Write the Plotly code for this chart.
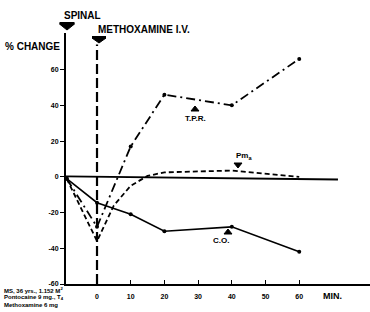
import plotly.graph_objects as go

# ---- data ----
tpr_time = [-9, 0, 10, 20, 40, 60]
tpr_vals = [-1, -28, 17, 46, 40, 66]

pma_time = [-9, 0, 5, 10, 15, 20, 40, 60]
pma_vals = [-1, -36, -16, -5, 0.5, 2.5, 3.5, 0]

co_time = [-9, 0, 10, 20, 40, 60]
co_vals = [-1, -14.5, -21, -30.5, -28, -42]

base_time = [-9.2, 71.5]
base_vals = [0.3, -1.5]

x_ticks = [0, 10, 20, 30, 40, 50, 60]
y_ticks = [60, 40, 20, 0, -20, -40, -60]

FONT = "Liberation Sans"
fig = go.Figure()

fig.add_trace(go.Scatter(x=base_time, y=base_vals, mode="lines",
                         line=dict(color="black", width=1.8), showlegend=False))
fig.add_trace(go.Scatter(x=tpr_time, y=tpr_vals, mode="lines+markers",
                         line=dict(color="black", width=1.8, dash="9px,4px,2px,4px"),
                         marker=dict(size=4, color="black"), showlegend=False))
fig.add_trace(go.Scatter(x=pma_time, y=pma_vals, mode="lines",
                         line=dict(color="black", width=1.8, dash="5px,3px"),
                         showlegend=False))
fig.add_trace(go.Scatter(x=co_time, y=co_vals, mode="lines+markers",
                         line=dict(color="black", width=1.6),
                         marker=dict(size=4, color="black"), showlegend=False))

# methoxamine dashed vertical line
fig.add_shape(type="line", x0=0, x1=0, y0=-60, y1=74, xref="x", yref="y",
              line=dict(color="black", width=2.2, dash="10px,4px"))

fig.update_layout(
    width=370, height=312,
    margin=dict(l=66, r=0, t=33, b=28),
    paper_bgcolor="white", plot_bgcolor="white",
    font=dict(family=FONT, color="black"),
    xaxis=dict(range=[-9.2, 81], tickvals=x_ticks, ticktext=[str(v) for v in x_ticks],
               showgrid=False, zeroline=False, showline=True, linecolor="black",
               linewidth=2, ticks="inside", ticklen=4, tickcolor="black",
               tickfont=dict(size=7, family=FONT, weight="bold"), ticklabelstandoff=5,
               automargin=False),
    yaxis=dict(range=[-60, 80.5], tickvals=y_ticks, ticktext=[str(v) for v in y_ticks],
               showgrid=False, zeroline=False, showline=True, linecolor="black",
               linewidth=2, ticks="outside", ticklen=4, tickcolor="black",
               tickfont=dict(size=7, family=FONT, weight="bold"), automargin=False),
)

# pixel -> paper helpers (plot area: x 66..370, y 33..284)
def xp(px): return (px - 66) / 304
def yp(py): return (284 - py) / 251

def arrow(cx, top, w, h, down=True, bar=0):
    """filled arrow glyph drawn as a path in paper coordinates"""
    if down:
        path = (f"M {xp(cx - w/2)},{yp(top + bar)} L {xp(cx + w/2)},{yp(top + bar)} "
                f"L {xp(cx)},{yp(top + h)} Z")
    else:
        path = (f"M {xp(cx - w/2)},{yp(top + h)} L {xp(cx + w/2)},{yp(top + h)} "
                f"L {xp(cx)},{yp(top)} Z")
    fig.add_shape(type="path", path=path, xref="paper", yref="paper",
                  fillcolor="black", line=dict(color="black", width=1))
    if bar:
        fig.add_shape(type="rect", x0=xp(cx - w/2), x1=xp(cx + w/2),
                      y0=yp(top + bar), y1=yp(top), xref="paper", yref="paper",
                      fillcolor="black", line=dict(color="black", width=0))

arrow(67, 22, 15, 8, down=True, bar=2)     # spinal
arrow(99, 36, 14, 7, down=True, bar=2)     # methoxamine
arrow(195, 106, 8, 5, down=False)          # T.P.R.
arrow(238, 163, 8, 5, down=True)           # Pma
arrow(228, 229, 8, 5, down=False)          # C.O.

ann = []
def text(x, y, s, size=10, xref="x", yref="y", xa="center", ya="middle"):
    ann.append(dict(x=x, y=y, xref=xref, yref=yref, text=s, showarrow=False,
                    xanchor=xa, yanchor=ya,
                    font=dict(size=size, family=FONT, color="black", weight="bold")))

# top labels
text(xp(62), yp(15), "SPINAL", 10, xref="paper", yref="paper", xa="left")
text(xp(96), yp(29.5), "METHOXAMINE I.V.", 10, xref="paper", yref="paper", xa="left")
text(xp(62), yp(46.5), "% CHANGE", 10, xref="paper", yref="paper", xa="right")

# series labels
text(29.2, 32.5, "T.P.R.", 8)
text(43.5, 11.5, "Pm<sub>a</sub>", 8)
text(36.8, -35.5, "C.O.", 8)

# x axis unit
text(xp(332), yp(296), "MIN.", 9, xref="paper", yref="paper")

# notes bottom-left
notes = ["MS, 36 yrs., 1.152 M<sup>2</sup>", "Pontocaine 9 mg., T<sub>4</sub>", "Methoxamine 6 mg"]
for i, s in enumerate(notes):
    text(xp(2), yp(290 + 7.5 * i), s, 6, xref="paper", yref="paper", xa="left")

fig.update_layout(annotations=ann)
fig.write_html("out.html", config={"displayModeBar": False},
               post_script="document.body.style.margin='0';document.body.style.overflow='hidden';")
